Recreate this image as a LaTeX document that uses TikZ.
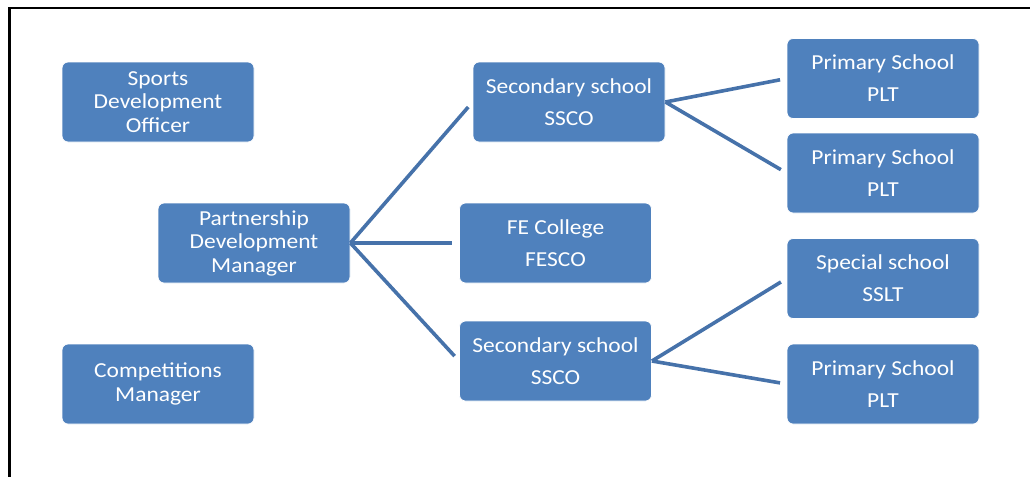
\documentclass[tikz,border=0pt]{standalone}
\usepackage{fontspec}
\newfontfamily\boxfont[FakeStretch=1.1]{Carlito}
\definecolor{boxblue}{HTML}{4F81BD}
\definecolor{lineblue}{HTML}{4672AA}
\begin{document}
\begin{tikzpicture}[x=0.75pt,y=-0.75pt,
  box/.style={draw=white, line width=0.6pt, fill=boxblue, rounded corners=4.5pt,
    minimum width=144pt, minimum height=60pt, inner sep=0pt, align=center,
    text=white, font=\boxfont\fontsize{16}{17.6}\selectfont},
  boxtwo/.style={box, font=\boxfont\fontsize{16}{24}\selectfont},
  link/.style={draw=lineblue, line width=2.7pt, shorten >=5pt}]
\useasboundingbox (0,0) rectangle (1030,476);
\draw[line width=2pt] (9.5,480) -- (9.5,8) -- (1035,8);
\node[box] (sdo) at (158,102) {Sports\\Development\\Officer};
\node[box] (cm) at (158,384) {Competitions\\Manager};
\node[box] (pdm) at (254,243) {Partnership\\Development\\Manager};
\node[boxtwo] (ss1) at (569,102) {Secondary school\\SSCO};
\node[boxtwo] (fe) at (555.5,243) {FE College\\FESCO};
\node[boxtwo] (ss2) at (555.5,361) {Secondary school\\SSCO};
\node[boxtwo] (p1) at (883,78.5) {Primary School\\PLT};
\node[boxtwo] (p2) at (883,173) {Primary School\\PLT};
\node[boxtwo] (sp) at (883,278.5) {Special school\\SSLT};
\node[boxtwo] (p4) at (883,384) {Primary School\\PLT};
\draw[link] (pdm.east) -- (ss1.west);
\draw[link] (pdm.east) -- (fe.west);
\draw[link] (pdm.east) -- (ss2.west);
\draw[link] (ss1.east) -- (p1.west);
\draw[link] (ss1.east) -- (p2.west);
\draw[link] (ss2.east) -- (sp.west);
\draw[link] (ss2.east) -- (p4.west);
\end{tikzpicture}
\end{document}
